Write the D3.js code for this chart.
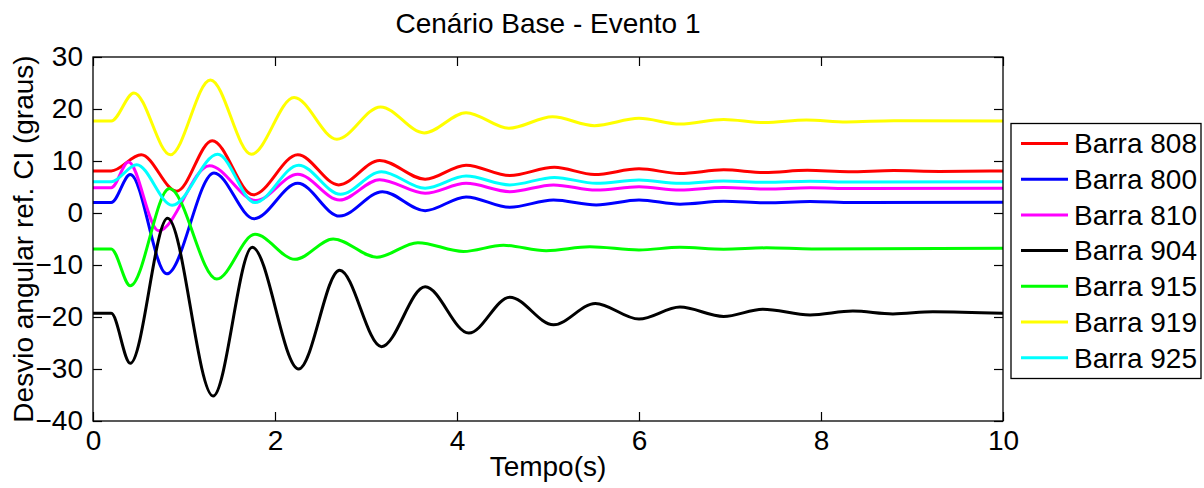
<!DOCTYPE html>
<html>
<head>
<meta charset="utf-8">
<script src="https://cdn.jsdelivr.net/npm/d3@7"></script>
<style>
  body { margin: 0; background: #fff; }
  svg { display: block; }
  text { font-family: "Liberation Sans", Arial, Helvetica, sans-serif; fill: #000; }
</style>
</head>
<body>
<svg id="chart" width="1204" height="488"></svg>
<script>
// Angular deviation (degrees, referenced to CI) per bus: [time (s), value]
const barra808 = [[0, 8.1], [0.2, 8.1], [0.53, 11.2], [0.92, 4.2], [1.31, 13.9], [1.76, 3.5], [2.25, 11.2], [2.70, 5.4], [3.15, 10.1], [3.65, 6.5], [4.10, 9.2], [4.58, 7.2], [5.07, 8.8], [5.51, 7.4], [6.0, 8.5], [6.45, 7.6], [6.93, 8.3], [7.38, 7.8], [7.85, 8.2], [8.3, 7.95], [8.8, 8.15], [9.3, 8.0], [10, 8.1]];
const barra800 = [[0, 2.0], [0.2, 2.0], [0.41, 7.4], [0.81, -11.7], [1.33, 7.7], [1.77, -1.1], [2.25, 5.7], [2.71, -0.6], [3.18, 4.1], [3.65, 0.45], [4.10, 3.1], [4.58, 1.1], [5.06, 2.5], [5.53, 1.55], [6.0, 2.5], [6.45, 1.7], [6.93, 2.25], [7.4, 1.95], [7.88, 2.2], [8.35, 2.0], [10, 2.05]];
const barra810 = [[0, 4.85], [0.2, 4.85], [0.39, 9.8], [0.72, -3.4], [1.28, 9.1], [1.79, 2.4], [2.25, 7.45], [2.71, 2.5], [3.15, 6.4], [3.65, 3.8], [4.10, 5.7], [4.58, 4.1], [5.06, 5.4], [5.53, 4.4], [6.0, 5.05], [6.45, 4.4], [6.93, 4.9], [7.4, 4.6], [7.88, 4.85], [8.35, 4.7], [10, 4.75]];
const barra904 = [[0, -19.3], [0.2, -19.3], [0.41, -28.9], [0.82, -1.0], [1.32, -35.2], [1.75, -6.6], [2.26, -30.0], [2.71, -11.0], [3.17, -25.7], [3.65, -14.2], [4.13, -23.1], [4.58, -16.2], [5.06, -21.5], [5.52, -17.4], [6.0, -20.4], [6.45, -18.1], [6.93, -19.9], [7.36, -18.5], [7.88, -19.6], [8.35, -18.85], [8.79, -19.4], [9.23, -19.0], [10, -19.3]];
const barra915 = [[0, -6.9], [0.2, -6.9], [0.41, -14.0], [0.84, 4.7], [1.36, -12.7], [1.78, -4.1], [2.22, -8.9], [2.64, -5.0], [3.12, -8.5], [3.57, -5.7], [4.07, -7.4], [4.51, -6.2], [4.98, -7.25], [5.46, -6.5], [6.0, -7.1], [6.45, -6.6], [6.93, -6.95], [7.4, -6.7], [7.9, -6.9], [10, -6.8]];
const barra919 = [[0, 17.7], [0.2, 17.7], [0.45, 23.1], [0.85, 11.2], [1.29, 25.6], [1.74, 11.3], [2.21, 22.2], [2.68, 14.2], [3.16, 20.4], [3.64, 15.4], [4.10, 19.3], [4.57, 16.3], [5.05, 18.5], [5.51, 16.8], [6.0, 18.2], [6.45, 17.1], [6.93, 18.0], [7.38, 17.4], [7.84, 17.9], [8.28, 17.5], [8.8, 17.75], [10, 17.7]];
const barra925 = [[0, 6.0], [0.2, 6.0], [0.48, 9.3], [0.87, 1.5], [1.37, 11.3], [1.78, 2.0], [2.26, 9.2], [2.72, 3.6], [3.17, 7.95], [3.65, 4.75], [4.10, 7.1], [4.58, 5.4], [5.07, 6.85], [5.53, 5.7], [6.0, 6.35], [6.45, 5.7], [6.93, 6.15], [7.4, 5.9], [7.88, 6.1], [8.35, 5.95], [10, 6.0]];

const seriesNames = ["Barra 808", "Barra 800", "Barra 810", "Barra 904", "Barra 915", "Barra 919", "Barra 925"];
const seriesValues = [barra808, barra800, barra810, barra904, barra915, barra919, barra925];
const seriesColors = ["#ff0000", "#0000ff", "#ff00ff", "#000000", "#00ff00", "#ffff00", "#00ffff"];

const xTicks = [0, 2, 4, 6, 8, 10];
const yTicks = [-40, -30, -20, -10, 0, 10, 20, 30];

const titleText = "Cenário Base - Evento 1";
const xLabel = "Tempo(s)";
const yLabel = "Desvio angular ref. CI (graus)";

const svg = d3.select("#chart");
const plot = { left: 93, right: 1003, top: 57, bottom: 421 };
const fontSize = 28;

const x = d3.scaleLinear().domain([0, 10]).range([plot.left, plot.right]);
const y = d3.scaleLinear().domain([-40, 30]).range([plot.bottom, plot.top]);

// clip region for the traces
svg.append("defs").append("clipPath").attr("id", "plotClip")
  .append("rect")
  .attr("x", plot.left).attr("y", plot.top)
  .attr("width", plot.right - plot.left).attr("height", plot.bottom - plot.top);

// traces
const line = d3.line()
  .x(d => x(d[0]))
  .y(d => y(d[1]))
  .curve(d3.curveMonotoneX);

const traces = svg.append("g").attr("clip-path", "url(#plotClip)");
seriesValues.forEach((vals, i) => {
  traces.append("path")
    .datum(vals)
    .attr("d", line)
    .attr("fill", "none")
    .attr("stroke", seriesColors[i])
    .attr("stroke-width", 3)
    .attr("stroke-linejoin", "round")
    .attr("stroke-linecap", "round");
});

// axes with inward ticks on all four sides
function styleAxis(g) {
  g.select(".domain").remove();
  g.selectAll(".tick line").attr("stroke", "#000").attr("stroke-width", 1.2);
  g.selectAll("text").attr("font-size", fontSize).attr("fill", "#000")
    .attr("font-family", "'Liberation Sans', Arial, Helvetica, sans-serif");
}

svg.append("g")
  .attr("transform", `translate(0,${plot.bottom})`)
  .call(d3.axisBottom(x).tickValues(xTicks).tickFormat(d3.format("d"))
    .tickSizeInner(-9).tickSizeOuter(0).tickPadding(9))
  .call(styleAxis);

svg.append("g")
  .attr("transform", `translate(0,${plot.top})`)
  .call(d3.axisTop(x).tickValues(xTicks).tickFormat("")
    .tickSizeInner(-9).tickSizeOuter(0))
  .call(styleAxis);

svg.append("g")
  .attr("transform", `translate(${plot.left},0)`)
  .call(d3.axisLeft(y).tickValues(yTicks).tickFormat(d3.format("d"))
    .tickSizeInner(-9).tickSizeOuter(0).tickPadding(10))
  .call(styleAxis);

svg.append("g")
  .attr("transform", `translate(${plot.right},0)`)
  .call(d3.axisRight(y).tickValues(yTicks).tickFormat("")
    .tickSizeInner(-9).tickSizeOuter(0))
  .call(styleAxis);

// plot frame
svg.append("rect")
  .attr("x", plot.left).attr("y", plot.top)
  .attr("width", plot.right - plot.left).attr("height", plot.bottom - plot.top)
  .attr("fill", "none").attr("stroke", "#000").attr("stroke-width", 1.3);

// title and axis labels
svg.append("text")
  .attr("x", (plot.left + plot.right) / 2).attr("y", 33)
  .attr("text-anchor", "middle").attr("font-size", fontSize)
  .text(titleText);

svg.append("text")
  .attr("x", (plot.left + plot.right) / 2).attr("y", 476)
  .attr("text-anchor", "middle").attr("font-size", fontSize)
  .text(xLabel);

svg.append("text")
  .attr("transform", `translate(33,${(plot.top + plot.bottom) / 2}) rotate(-90)`)
  .attr("text-anchor", "middle").attr("font-size", fontSize)
  .text(yLabel);

// legend
const legend = { x: 1011, y: 123.5, w: 190, h: 255, rowStart: 143.5, rowStep: 35.7 };
const lg = svg.append("g");
lg.append("rect")
  .attr("x", legend.x).attr("y", legend.y)
  .attr("width", legend.w).attr("height", legend.h)
  .attr("fill", "#fff").attr("stroke", "#000").attr("stroke-width", 1.3);

seriesNames.forEach((name, i) => {
  const cy = legend.rowStart + i * legend.rowStep;
  lg.append("line")
    .attr("x1", 1021).attr("x2", 1068)
    .attr("y1", cy).attr("y2", cy)
    .attr("stroke", seriesColors[i]).attr("stroke-width", 3);
  lg.append("text")
    .attr("x", 1074).attr("y", cy)
    .attr("dy", "0.35em")
    .attr("font-size", fontSize)
    .text(name);
});
</script>
</body>
</html>
